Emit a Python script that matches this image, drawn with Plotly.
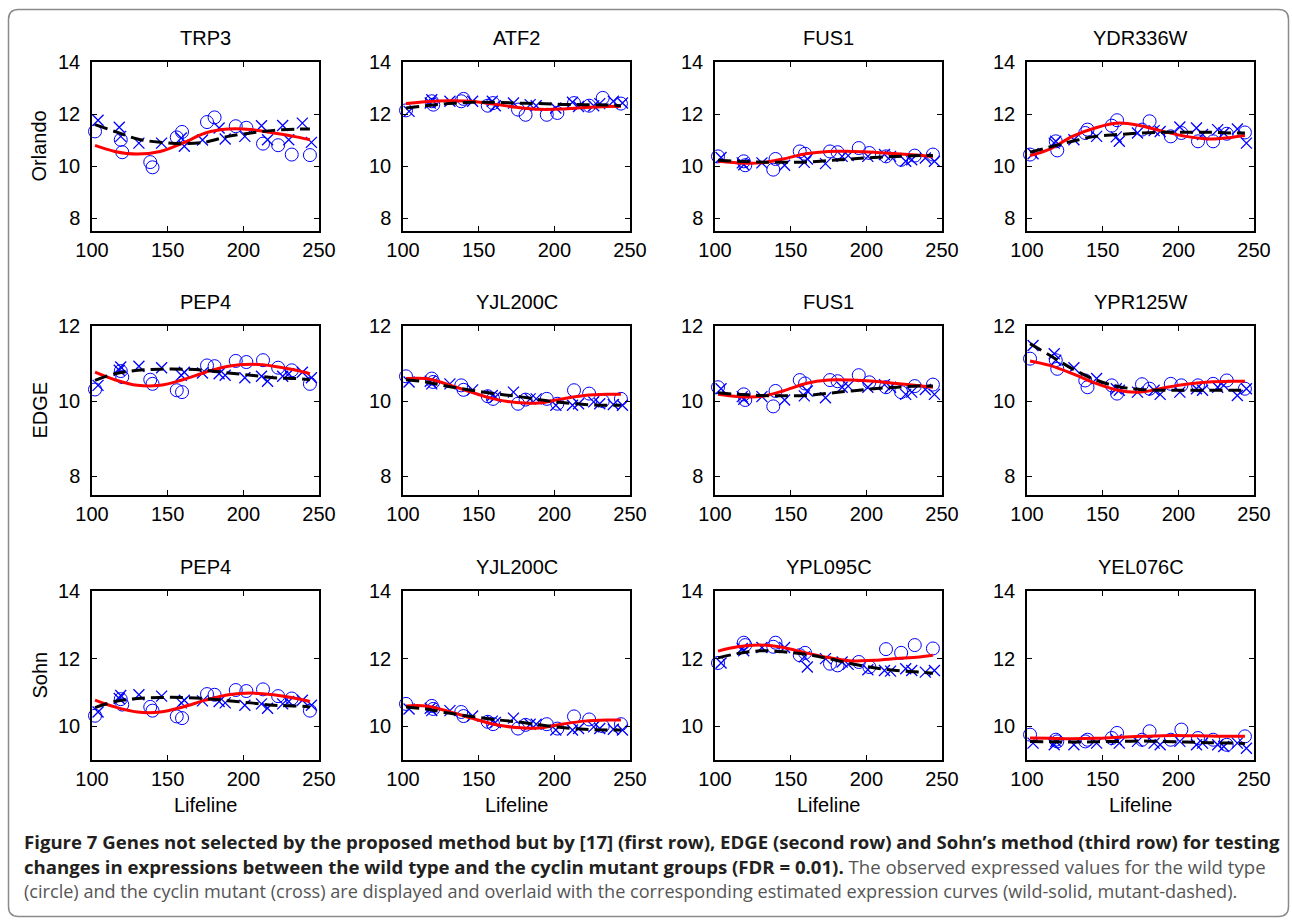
import plotly.graph_objects as go

W, H = 1292, 921

# ---------------- data ----------------
WT_TIMES = [102, 119, 120, 138.5, 140, 156, 159.5, 176, 181, 195, 202, 213, 223, 232, 244]
MUT_TIMES = [104, 118, 119, 131, 146, 159, 161, 173, 184, 188, 201, 212, 216, 226, 230, 239, 245]
FIT_TIMES = [102, 115, 130, 145, 160, 175, 190, 205, 220, 235, 244]

TRP3_WT = [11.33, 11.01, 10.53, 10.15, 9.95, 11.1, 11.31, 11.69, 11.87, 11.53, 11.47, 10.86, 10.8, 10.44, 10.42]
TRP3_MUT = [11.76, 11.49, 11.14, 10.88, 10.88, 11.08, 10.76, 11.0, 11.46, 11.04, 11.14, 11.55, 11.01, 11.56, 11.01, 11.65, 10.91]
TRP3_FIT_WT = [10.79, 10.56, 10.46, 10.56, 10.88, 11.27, 11.42, 11.4, 11.27, 11.12, 11.01]
TRP3_FIT_MUT = [11.59, 11.33, 11.04, 10.91, 10.86, 10.92, 11.14, 11.27, 11.37, 11.42, 11.42]

ATF2_WT = [12.14, 12.49, 12.36, 12.49, 12.58, 12.32, 12.42, 12.17, 11.97, 11.97, 12.04, 12.42, 12.32, 12.62, 12.4]
ATF2_MUT = [12.1, 12.42, 12.55, 12.49, 12.49, 12.49, 12.32, 12.42, 12.36, 12.32, 12.23, 12.45, 12.29, 12.32, 12.4, 12.49, 12.42]
ATF2_FIT_WT = [12.4, 12.47, 12.51, 12.49, 12.38, 12.26, 12.18, 12.19, 12.25, 12.29, 12.3]
ATF2_FIT_MUT = [12.23, 12.32, 12.4, 12.45, 12.45, 12.42, 12.4, 12.37, 12.36, 12.35, 12.32]

FUS1_WT = [10.37, 10.18, 10.03, 9.86, 10.27, 10.56, 10.47, 10.56, 10.53, 10.69, 10.5, 10.37, 10.24, 10.4, 10.44]
FUS1_MUT = [10.33, 10.12, 10.05, 10.12, 10.03, 10.14, 10.27, 10.09, 10.37, 10.4, 10.37, 10.44, 10.37, 10.18, 10.24, 10.31, 10.18]
FUS1_FIT_WT = [10.18, 10.12, 10.12, 10.27, 10.47, 10.56, 10.56, 10.53, 10.47, 10.41, 10.37]
FUS1_FIT_MUT = [10.22, 10.18, 10.15, 10.14, 10.15, 10.21, 10.27, 10.33, 10.37, 10.4, 10.4]

YDR336W_WT = [10.44, 10.95, 10.6, 11.27, 11.4, 11.55, 11.76, 11.4, 11.72, 11.14, 11.27, 10.95, 10.95, 11.24, 11.29]
YDR336W_MUT = [10.47, 10.88, 10.95, 11.01, 11.14, 11.12, 10.95, 11.27, 11.36, 11.33, 11.5, 11.46, 11.21, 11.4, 11.27, 11.42, 10.88]
YDR336W_FIT_WT = [10.4, 10.65, 11.14, 11.46, 11.65, 11.55, 11.33, 11.14, 11.04, 11.1, 11.17]
YDR336W_FIT_MUT = [10.53, 10.73, 10.95, 11.14, 11.21, 11.27, 11.3, 11.3, 11.3, 11.27, 11.27]

PEP4_WT = [10.31, 10.8, 10.64, 10.57, 10.46, 10.29, 10.24, 10.95, 10.93, 11.07, 11.04, 11.09, 10.89, 10.82, 10.46]
PEP4_MUT = [10.42, 10.82, 10.91, 10.93, 10.89, 10.69, 10.77, 10.75, 10.73, 10.69, 10.62, 10.66, 10.53, 10.66, 10.73, 10.77, 10.62]
PEP4_FIT_WT = [10.77, 10.57, 10.42, 10.42, 10.57, 10.77, 10.93, 10.98, 10.93, 10.82, 10.73]
PEP4_FIT_MUT = [10.55, 10.73, 10.82, 10.85, 10.85, 10.82, 10.75, 10.69, 10.62, 10.6, 10.57]

YJL200C_WT = [10.66, 10.6, 10.51, 10.42, 10.3, 10.13, 10.06, 9.93, 10.04, 10.06, 9.93, 10.29, 10.2, 10.0, 10.06]
YJL200C_MUT = [10.51, 10.53, 10.46, 10.46, 10.3, 10.15, 10.11, 10.24, 10.06, 10.06, 9.89, 9.89, 9.93, 9.98, 9.93, 9.91, 9.89]
YJL200C_FIT_WT = [10.6, 10.6, 10.44, 10.24, 10.06, 9.96, 9.95, 10.06, 10.15, 10.18, 10.18]
YJL200C_FIT_MUT = [10.57, 10.51, 10.39, 10.29, 10.2, 10.13, 10.04, 9.96, 9.91, 9.89, 9.89]

YPR125W_WT = [11.13, 11.09, 10.86, 10.55, 10.37, 10.42, 10.2, 10.45, 10.33, 10.46, 10.42, 10.42, 10.46, 10.55, 10.33]
YPR125W_MUT = [11.48, 11.26, 11.09, 10.89, 10.6, 10.33, 10.29, 10.24, 10.29, 10.18, 10.24, 10.33, 10.29, 10.37, 10.42, 10.15, 10.33]
YPR125W_FIT_WT = [11.07, 10.95, 10.73, 10.48, 10.29, 10.24, 10.35, 10.45, 10.51, 10.53, 10.53]
YPR125W_FIT_MUT = [11.53, 11.22, 10.86, 10.57, 10.39, 10.31, 10.29, 10.29, 10.29, 10.29, 10.29]

YPL095C_WT = [11.87, 12.47, 12.4, 12.35, 12.47, 12.1, 12.17, 11.85, 11.8, 11.9, 11.75, 12.28, 12.17, 12.4, 12.3]
YPL095C_MUT = [11.87, 12.3, 12.23, 12.33, 12.33, 12.05, 11.75, 12.0, 11.9, 11.83, 11.67, 11.65, 11.63, 11.7, 11.65, 11.6, 11.65]
YPL095C_FIT_WT = [12.22, 12.35, 12.4, 12.33, 12.17, 12.03, 11.93, 11.95, 12.0, 12.05, 12.1]
YPL095C_FIT_MUT = [12.02, 12.15, 12.23, 12.2, 12.13, 12.0, 11.85, 11.73, 11.65, 11.6, 11.57]

YEL076C_WT = [9.75, 9.6, 9.55, 9.55, 9.6, 9.65, 9.8, 9.6, 9.85, 9.6, 9.9, 9.65, 9.6, 9.45, 9.7]
YEL076C_MUT = [9.5, 9.45, 9.55, 9.45, 9.5, 9.6, 9.5, 9.55, 9.5, 9.45, 9.55, 9.45, 9.5, 9.45, 9.4, 9.5, 9.35]
YEL076C_FIT_WT = [9.65, 9.64, 9.63, 9.64, 9.67, 9.7, 9.72, 9.72, 9.71, 9.7, 9.7]
YEL076C_FIT_MUT = [9.55, 9.54, 9.53, 9.54, 9.55, 9.56, 9.55, 9.53, 9.51, 9.5, 9.49]

ROW_LABELS = ["Orlando", "EDGE", "Sohn"]
PANEL_TITLES = [["TRP3", "ATF2", "FUS1", "YDR336W"],
                ["PEP4", "YJL200C", "FUS1", "YPR125W"],
                ["PEP4", "YJL200C", "YPL095C", "YEL076C"]]
Y_RANGES = [[7.5, 14], [7.5, 12], [9, 14]]
Y_TICKS = [[8, 10, 12, 14], [8, 10, 12], [10, 12, 14]]
X_RANGE = [100, 250]
X_TICKS = [100, 150, 200, 250]
X_LABEL = "Lifeline"

GENE_DATA = {
    "TRP3": (TRP3_WT, TRP3_MUT, TRP3_FIT_WT, TRP3_FIT_MUT),
    "ATF2": (ATF2_WT, ATF2_MUT, ATF2_FIT_WT, ATF2_FIT_MUT),
    "FUS1": (FUS1_WT, FUS1_MUT, FUS1_FIT_WT, FUS1_FIT_MUT),
    "YDR336W": (YDR336W_WT, YDR336W_MUT, YDR336W_FIT_WT, YDR336W_FIT_MUT),
    "PEP4": (PEP4_WT, PEP4_MUT, PEP4_FIT_WT, PEP4_FIT_MUT),
    "YJL200C": (YJL200C_WT, YJL200C_MUT, YJL200C_FIT_WT, YJL200C_FIT_MUT),
    "YPR125W": (YPR125W_WT, YPR125W_MUT, YPR125W_FIT_WT, YPR125W_FIT_MUT),
    "YPL095C": (YPL095C_WT, YPL095C_MUT, YPL095C_FIT_WT, YPL095C_FIT_MUT),
    "YEL076C": (YEL076C_WT, YEL076C_MUT, YEL076C_FIT_WT, YEL076C_FIT_MUT),
}

CAPTION_1 = ("<b>Figure 7 Genes not selected by the proposed method but by [17] (first row), "
             "EDGE (second row) and Sohn\u2019s method (third row) for testing</b>")
CAPTION_2 = ("<b>changes in expressions between the wild type and the cyclin mutant groups (FDR = 0.01).</b>"
             "<span style='color:#555555'> The observed expressed values for the wild type</span>")
CAPTION_3 = ("(circle) and the cyclin mutant (cross) are displayed and overlaid with the corresponding "
             "estimated expression curves (wild-solid, mutant-dashed).")

# ---------------- geometry (pixels) ----------------
COL_LEFT = [92, 403, 715, 1027]
PW = 227
ROW_TOP = [62, 326, 591]
PH = 169

FONT = "Liberation Sans, Arial, Helvetica, sans-serif"
CAP_FONT = "Open Sans, Lato, sans-serif"


def px_x(x):
    return x / W


def px_y(y):
    return 1 - y / H


fig = go.Figure()
annotations = []
layout_axes = {}

n = 0
for r in range(3):
    for c in range(4):
        n += 1
        gene = PANEL_TITLES[r][c]
        wt, mut, fwt, fmut = GENE_DATA[gene]
        xa = "x" if n == 1 else f"x{n}"
        ya = "y" if n == 1 else f"y{n}"
        left, top = COL_LEFT[c], ROW_TOP[r]
        common = dict(ticks="inside", ticklen=5, tickwidth=1, tickcolor="black",
                      showline=True, linecolor="black", linewidth=1.5, mirror="allticks",
                      showgrid=False, zeroline=False, automargin=False,
                      tickfont=dict(family=FONT, size=20, color="black"))
        layout_axes["xaxis" if n == 1 else f"xaxis{n}"] = dict(
            domain=[px_x(left), px_x(left + PW)], range=X_RANGE, tickvals=X_TICKS,
            anchor=ya, ticklabelstandoff=0, **common)
        layout_axes["yaxis" if n == 1 else f"yaxis{n}"] = dict(
            domain=[px_y(top + PH), px_y(top)], range=Y_RANGES[r], tickvals=Y_TICKS[r],
            anchor=xa, ticklabelstandoff=6, **common)

        fig.add_trace(go.Scatter(x=WT_TIMES, y=wt, mode="markers", xaxis=xa, yaxis=ya,
                                 marker=dict(symbol="circle-open", size=13, color="#0000ff",
                                             line=dict(width=1, color="#0000ff")),
                                 cliponaxis=False, showlegend=False))
        fig.add_trace(go.Scatter(x=MUT_TIMES, y=mut, mode="markers", xaxis=xa, yaxis=ya,
                                 marker=dict(symbol="x-thin-open", size=11, color="#0000ff",
                                             line=dict(width=1.3, color="#0000ff")),
                                 cliponaxis=False, showlegend=False))
        fig.add_trace(go.Scatter(x=FIT_TIMES, y=fwt, mode="lines", xaxis=xa, yaxis=ya,
                                 line=dict(color="#ff0000", width=3, shape="spline"),
                                 showlegend=False))
        fig.add_trace(go.Scatter(x=FIT_TIMES, y=fmut, mode="lines", xaxis=xa, yaxis=ya,
                                 line=dict(color="black", width=3, dash="13px,6px", shape="spline"),
                                 showlegend=False))

        annotations.append(dict(text=gene, x=px_x(left + PW / 2), y=px_y(top - 24),
                                xref="paper", yref="paper", xanchor="center", yanchor="middle",
                                showarrow=False, font=dict(family=FONT, size=20, color="black")))
        if c == 0:
            annotations.append(dict(text=ROW_LABELS[r], x=px_x(39), y=px_y(top + PH / 2),
                                    xref="paper", yref="paper", xanchor="center", yanchor="middle",
                                    textangle=-90, showarrow=False,
                                    font=dict(family=FONT, size=20, color="black")))
        if r == 2:
            annotations.append(dict(text=X_LABEL, x=px_x(left + PW / 2), y=px_y(805),
                                    xref="paper", yref="paper", xanchor="center", yanchor="middle",
                                    showarrow=False, font=dict(family=FONT, size=20, color="black")))

for txt, yy, col, sz in [(CAPTION_1, 841, "#231f20", 18.6), (CAPTION_2, 866, "#231f20", 18.6),
                         (CAPTION_3, 891, "#555555", 18.1)]:
    annotations.append(dict(text=txt, x=px_x(22), y=px_y(yy), xref="paper", yref="paper",
                            xanchor="left", yanchor="middle", showarrow=False, align="left",
                            font=dict(family=CAP_FONT, size=sz, color=col)))

# rounded outer border
L, R, T, B, rad = 8.5, 1288.5, 9.5, 916.5, 10
path = (f"M {px_x(L + rad)} {px_y(T)} L {px_x(R - rad)} {px_y(T)} "
        f"Q {px_x(R)} {px_y(T)} {px_x(R)} {px_y(T + rad)} "
        f"L {px_x(R)} {px_y(B - rad)} Q {px_x(R)} {px_y(B)} {px_x(R - rad)} {px_y(B)} "
        f"L {px_x(L + rad)} {px_y(B)} Q {px_x(L)} {px_y(B)} {px_x(L)} {px_y(B - rad)} "
        f"L {px_x(L)} {px_y(T + rad)} Q {px_x(L)} {px_y(T)} {px_x(L + rad)} {px_y(T)} Z")

fig.update_layout(
    template="none",
    width=W, height=H, margin=dict(l=0, r=0, t=0, b=0, pad=0, autoexpand=False),
    paper_bgcolor="white", plot_bgcolor="white",
    annotations=annotations,
    shapes=[dict(type="path", path=path, xref="paper", yref="paper",
                 line=dict(color="#8a8a8a", width=1.5), fillcolor="rgba(0,0,0,0)", layer="below")],
    **layout_axes,
)

fig.write_html("out.html",
               config={"displayModeBar": False, "responsive": False},
               post_script="document.body.style.margin='0';document.body.style.overflow='hidden';")
